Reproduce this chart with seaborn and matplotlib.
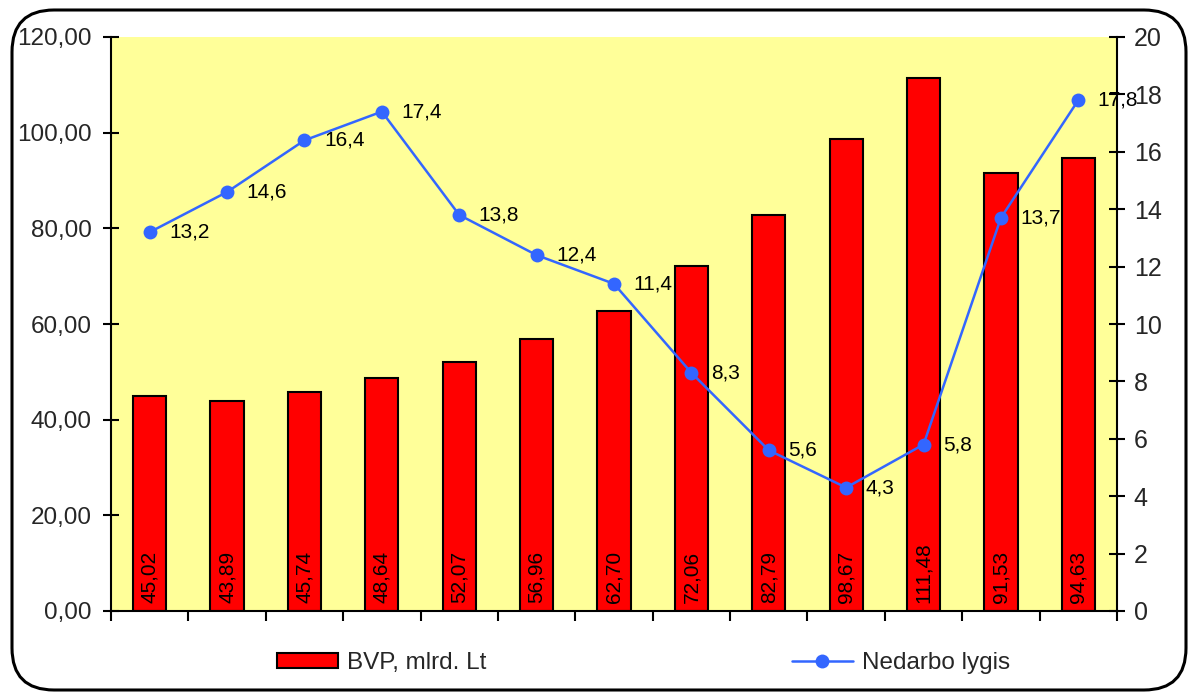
import matplotlib
matplotlib.use("Agg")
import matplotlib.pyplot as plt
import seaborn as sns
import pandas as pd
from matplotlib.patches import FancyBboxPatch, Patch
from matplotlib.lines import Line2D
from matplotlib.ticker import FuncFormatter, MultipleLocator

years = ["1998", "1999", "2000", "2001", "2002", "2003", "2004",
         "2005", "2006", "2007", "2008", "2009", "2010"]
bvp = [45.02, 43.89, 45.74, 48.64, 52.07, 56.96, 62.70,
       72.06, 82.79, 98.67, 111.48, 91.53, 94.63]
nedarbas = [13.2, 14.6, 16.4, 17.4, 13.8, 12.4, 11.4,
            8.3, 5.6, 4.3, 5.8, 13.7, 17.8]
bar_label = "BVP, mlrd. Lt"
line_label = "Nedarbo lygis"

sns.set_theme(style="white")
plt.rcParams["font.family"] = ["Liberation Sans", "DejaVu Sans"]

df = pd.DataFrame({"year": years, "bvp": bvp, "ned": nedarbas})

fig = plt.figure(figsize=(11.96, 7.0), dpi=100)
ax = fig.add_axes([111/1196, 1 - 611/700, (1117-111)/1196, (611-37)/700])
ax.set_facecolor("#FFFF99")

sns.barplot(data=df, x="year", y="bvp", ax=ax, color="#FF0000",
            saturation=1, width=0.43, edgecolor="black", linewidth=1.5,
            zorder=2)
ax.set_ylim(0, 120)
ax.set_xlim(-0.5, len(years) - 0.5)
ax.yaxis.set_major_locator(MultipleLocator(20))
ax.yaxis.set_major_formatter(FuncFormatter(lambda v, p: f"{v:.2f}".replace(".", ",")))
ax.set_xlabel("")
ax.set_ylabel("")
ax.set_xticks([i - 0.5 for i in range(len(years) + 1)])
ax.set_xticklabels([])
ax.tick_params(axis="x", direction="out", length=7, width=1.5, color="black", bottom=True)
ax.tick_params(axis="y", direction="inout", length=12, width=1.5, color="black",
               labelsize=17.5, left=True, pad=8)
for s in ["top", "right"]:
    ax.spines[s].set_visible(False)
for s in ["left", "bottom"]:
    ax.spines[s].set_color("black")
    ax.spines[s].set_linewidth(1.5)
ax.spines["bottom"].set_zorder(5)

for i, v in enumerate(bvp):
    ax.text(i, 1.6, f"{v:.2f}".replace(".", ","), rotation=90, ha="center",
            va="bottom", fontsize=15, color="black", zorder=4)

ax2 = ax.twinx()
sns.lineplot(x=list(range(len(years))), y=nedarbas, ax=ax2, color="#3366FF",
             linewidth=1.8, marker="o", markersize=10, markeredgewidth=0,
             zorder=3)
ax2.set_ylim(0, 20)
ax2.set_xlim(-0.5, len(years) - 0.5)
ax2.yaxis.set_major_locator(MultipleLocator(2))
ax2.tick_params(axis="y", direction="inout", length=12, width=1.5, color="black",
                labelsize=18, right=True, pad=6)
for s in ["top", "left", "bottom"]:
    ax2.spines[s].set_visible(False)
ax2.spines["right"].set_color("black")
ax2.spines["right"].set_linewidth(1.5)
for i, v in enumerate(nedarbas):
    ax2.annotate(f"{v:.1f}".replace(".", ","), (i, v), xytext=(14, 0),
                 textcoords="offset points", ha="left", va="center",
                 fontsize=15, color="black")

h1 = Patch(facecolor="#FF0000", edgecolor="black", linewidth=1.5)
h2 = Line2D([0], [0], color="#3366FF", linewidth=1.8, marker="o",
            markersize=10, markeredgewidth=0)
fig.legend([h1], [bar_label], loc="center left", bbox_to_anchor=(255/1196, 1 - 663/700),
           frameon=False, fontsize=17.5, handlelength=2.5, handleheight=0.6,
           handletextpad=0.4)
fig.legend([h2], [line_label], loc="center left", bbox_to_anchor=(770/1196, 1 - 663/700),
           frameon=False, fontsize=17.5, handlelength=2.5, handletextpad=0.4)

border = FancyBboxPatch((0.12, 0.1), 11.96 - 0.22, 7.0 - 0.2,
                        boxstyle="round,pad=0,rounding_size=0.42",
                        transform=fig.dpi_scale_trans, fill=False,
                        edgecolor="black", linewidth=2.2)
fig.patches.append(border)

fig.savefig("out.png", dpi=100)
